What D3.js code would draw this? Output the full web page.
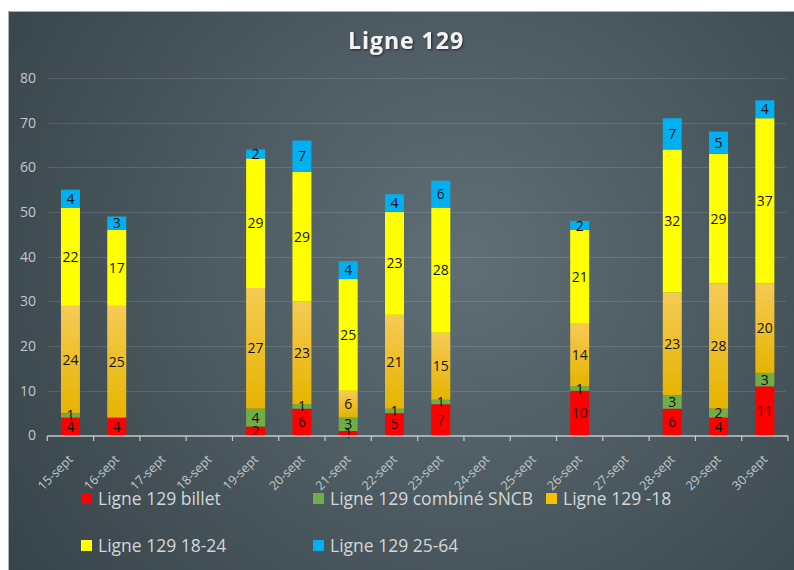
<!DOCTYPE html>
<html>
<head>
<meta charset="utf-8">
<script src="https://cdn.jsdelivr.net/npm/d3@7"></script>
<style>
  body { margin: 0; background: #fff; }
  svg { display: block; font-family: "Open Sans", sans-serif; }
</style>
</head>
<body>
<div id="chart"></div>
<script>
// Données
var dates = ["15-sept", "16-sept", "17-sept", "18-sept", "19-sept", "20-sept", "21-sept", "22-sept",
  "23-sept", "24-sept", "25-sept", "26-sept", "27-sept", "28-sept", "29-sept", "30-sept"];
var billet = [4, 4, 0, 0, 2, 6, 1, 5, 7, 0, 0, 10, 0, 6, 4, 11];
var combine = [1, 0, 0, 0, 4, 1, 3, 1, 1, 0, 0, 1, 0, 3, 2, 3];
var moins18 = [24, 25, 0, 0, 27, 23, 6, 21, 15, 0, 0, 14, 0, 23, 28, 20];
var age1824 = [22, 17, 0, 0, 29, 29, 25, 23, 28, 0, 0, 21, 0, 32, 29, 37];
var age2564 = [4, 3, 0, 0, 2, 7, 4, 4, 6, 0, 0, 2, 0, 7, 5, 4];
var seriesNames = ["Ligne 129 billet", "Ligne 129 combiné SNCB", "Ligne 129 -18",
  "Ligne 129 18-24", "Ligne 129 25-64"];
var yTicks = [0, 10, 20, 30, 40, 50, 60, 70, 80];

var W = 794, H = 570;
var colors = ["#ff0000", "#70ad47", "url(#gradOrange)", "#ffff00", "#00b0f0"];
var legendColors = ["#ff0000", "#70ad47", "#f2c200", "#ffff00", "#00b0f0"];

var svg = d3.select("#chart").append("svg")
  .attr("width", W).attr("height", H);

var defs = svg.append("defs");
var bg = defs.append("radialGradient").attr("id", "bgGrad")
  .attr("gradientUnits", "userSpaceOnUse")
  .attr("cx", 460).attr("cy", 260).attr("r", 540);
bg.append("stop").attr("offset", "0%").attr("stop-color", "#5f6f75");
bg.append("stop").attr("offset", "100%").attr("stop-color", "#37444a");

var og = defs.append("linearGradient").attr("id", "gradOrange")
  .attr("x1", 0).attr("y1", 0).attr("x2", 0).attr("y2", 1);
og.append("stop").attr("offset", "0%").attr("stop-color", "#f5cb55");
og.append("stop").attr("offset", "100%").attr("stop-color", "#e6b400");

var shadow = defs.append("filter").attr("id", "txtShadow");
shadow.append("feDropShadow").attr("dx", 1).attr("dy", 1).attr("stdDeviation", 1)
  .attr("flood-color", "#000").attr("flood-opacity", 0.6);

// fond du panneau
svg.append("rect").attr("x", 8).attr("y", 11).attr("width", W - 8).attr("height", H - 11)
  .attr("fill", "url(#bgGrad)");
svg.append("path").attr("d", "M8.5," + H + "V11.5H" + W)
  .attr("fill", "none").attr("stroke", "#a9b3b6").attr("stroke-width", 1);

// titre
svg.append("text").attr("x", 406).attr("y", 49)
  .attr("text-anchor", "middle")
  .attr("font-size", 23).attr("font-weight", "bold")
  .attr("letter-spacing", 1)
  .attr("fill", "#f2f2f2")
  .attr("filter", "url(#txtShadow)")
  .text("Ligne 129");

var x = d3.scaleBand().domain(dates).range([47.3, 788]).paddingInner(0.59).paddingOuter(0.295);
var xTick = d3.scaleBand().domain(dates).range([47.3, 788]);
var y = d3.scaleLinear().domain([0, 80]).range([435.5, 78]);

// grille
svg.append("g").selectAll("line").data(yTicks.filter(d => d > 0)).enter().append("line")
  .attr("x1", 48).attr("x2", 786)
  .attr("y1", d => Math.round(y(d)) + 0.5).attr("y2", d => Math.round(y(d)) + 0.5)
  .attr("stroke", "#ffffff").attr("stroke-opacity", 0.12);

// axe Y
var yAxis = svg.append("g").attr("transform", "translate(44,0)")
  .call(d3.axisLeft(y).tickValues(yTicks).tickSize(0).tickPadding(8));
yAxis.select(".domain").remove();
yAxis.selectAll("text").attr("font-size", 14).attr("fill", "#c3c9cb")
  .attr("font-family", "Open Sans, sans-serif");

// barres empilées
var rows = dates.map((d, i) => ({
  date: d, vals: [billet[i], combine[i], moins18[i], age1824[i], age2564[i]]
}));
var stack = d3.stack().keys([0, 1, 2, 3, 4]).value((d, k) => d.vals[k]);
var layers = stack(rows);

var gBars = svg.append("g");
layers.forEach(function (layer, k) {
  gBars.append("g").selectAll("rect").data(layer.filter(d => d[1] > d[0])).enter().append("rect")
    .attr("x", d => x(d.data.date))
    .attr("width", x.bandwidth())
    .attr("y", d => y(d[1]))
    .attr("height", d => y(d[0]) - y(d[1]))
    .attr("fill", colors[k]);
});

// axe X
var xAxis = svg.append("g").attr("transform", "translate(0,436)");
xAxis.append("line").attr("x1", 47.3).attr("x2", 788)
  .attr("stroke", "#c4c9cb").attr("stroke-width", 1.5);
xAxis.selectAll(".tk").data(dates.concat(["end"])).enter().append("line")
  .attr("x1", (d, i) => 47.3 + i * xTick.step()).attr("x2", (d, i) => 47.3 + i * xTick.step())
  .attr("y1", 0).attr("y2", 5)
  .attr("stroke", "#c4c9cb").attr("stroke-width", 1.2);
xAxis.selectAll(".lbl").data(dates).enter().append("text")
  .attr("transform", d => "translate(" + (x(d) + x.bandwidth() / 2 - 3) + ",18) rotate(-45)")
  .attr("text-anchor", "end")
  .attr("dy", "0.7em")
  .attr("font-size", 12.5)
  .attr("fill", "#c3c9cb")
  .text(d => d);

// étiquettes de valeur
layers.forEach(function (layer, k) {
  gBars.append("g").selectAll("text").data(layer.filter(d => d[1] > d[0])).enter().append("text")
    .attr("x", d => x(d.data.date) + x.bandwidth() / 2)
    .attr("y", d => (y(d[0]) + y(d[1])) / 2)
    .attr("dy", "0.36em")
    .attr("text-anchor", "middle")
    .attr("font-size", 14)
    .attr("fill", "#111")
    .text(d => d[1] - d[0]);
});

// légende
var legendPos = [[81, 499], [313, 499], [546, 499], [81, 546], [313, 546]];
var legend = svg.append("g").selectAll("g").data(seriesNames).enter().append("g")
  .attr("transform", (d, i) => "translate(" + legendPos[i][0] + "," + legendPos[i][1] + ")");
legend.append("rect").attr("x", 0).attr("y", -6).attr("width", 11).attr("height", 11)
  .attr("fill", (d, i) => legendColors[i]);
legend.append("text").attr("x", 17).attr("dy", "0.35em")
  .attr("font-size", 17.5).attr("fill", "#d3d7d9")
  .text(d => d);
</script>
</body>
</html>
